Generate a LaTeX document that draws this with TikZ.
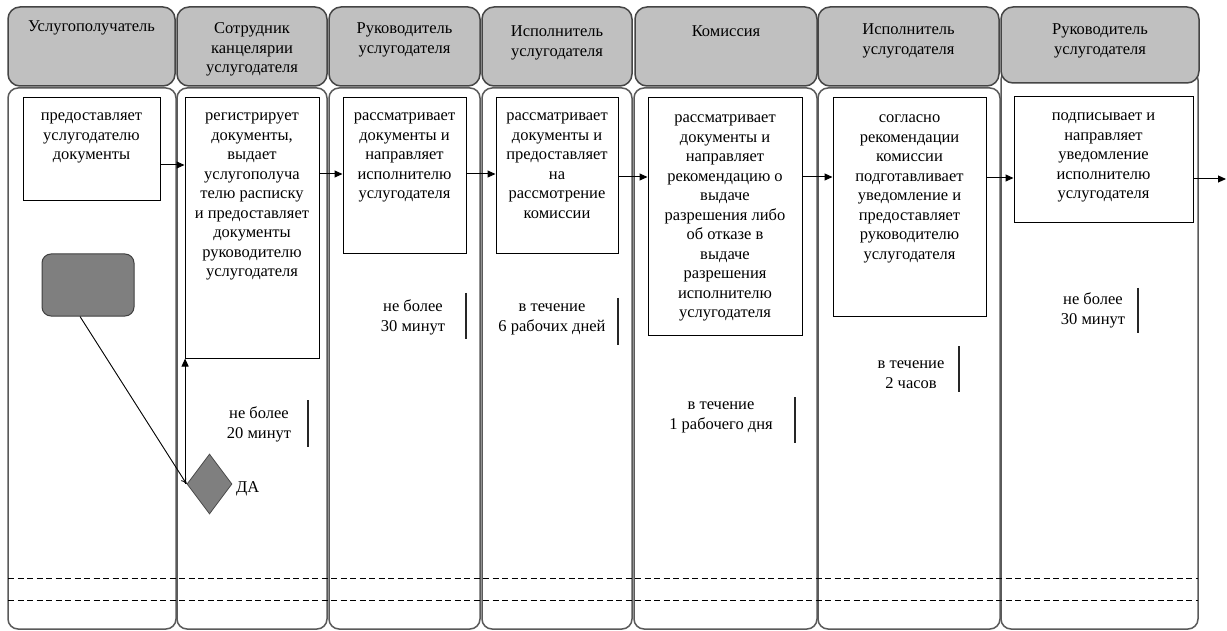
\documentclass[tikz,border=0pt]{standalone}
\usepackage{fontspec}
\setmainfont{Liberation Serif}
\usetikzlibrary{arrows.meta,shapes.geometric}
\definecolor{hdrfill}{HTML}{C0C0C0}
\definecolor{hdrline}{HTML}{454545}
\definecolor{laneline}{HTML}{5A5A5A}
\definecolor{darkgray}{HTML}{7F7F7F}
\newcommand\myfs{\fontsize{16.5}{19.5}\selectfont}
\begin{document}
\begin{tikzpicture}[x=1pt,y=-1pt,
  txt/.style={align=center, inner sep=0pt, font=\myfs, anchor=north},
  boxst/.style={draw=black, line width=1pt, fill=white, rectangle, inner sep=0pt},
  hdr/.style={draw=hdrline, fill=hdrfill, line width=1.5pt, rounded corners=12pt, rectangle, inner sep=0pt},
  lane/.style={draw=laneline, line width=1.5pt, rounded corners=10pt},
  arr/.style={-{Triangle[length=8pt,width=7pt]}, line width=1pt},
  thinarr/.style={-{To[length=6pt,width=6pt]}, line width=0.9pt},
  bar/.style={line width=1.2pt, draw=black!85},
  dashline/.style={line width=1pt, dash pattern=on 6pt off 3.5pt}]
\fill[white] (0,0) rectangle (1227,631);
\useasboundingbox (0,0) rectangle (1227,631);
% lanes
\draw[lane] (8,88) rectangle (176,629);
\draw[lane] (177,88) rectangle (327,629);
\draw[lane] (329,88) rectangle (480,629);
\draw[lane] (482,88) rectangle (632,629);
\draw[lane] (634,88) rectangle (817,629);
\draw[lane] (818,88) rectangle (1000,629);
\draw[lane] (1001,70) rectangle (1198,629);
% dashed lines
\draw[dashline] (8,578) -- (1198,578);
\draw[dashline] (8,600) -- (1198,600);
% headers
\node[hdr, minimum width=167pt, minimum height=79pt] (h1) at (91.5,46.5) {};
\node[hdr, minimum width=150pt, minimum height=79pt] (h2) at (252,46.5) {};
\node[hdr, minimum width=151pt, minimum height=79pt] (h3) at (404.5,46.5) {};
\node[hdr, minimum width=150pt, minimum height=79pt] (h4) at (557,46.5) {};
\node[hdr, minimum width=182pt, minimum height=79pt] (h5) at (726,46.5) {};
\node[hdr, minimum width=181pt, minimum height=79pt] (h6) at (908.5,46.5) {};
\node[hdr, minimum width=198pt, minimum height=76pt] (h7) at (1100,45) {};
\node[txt] (t1) at (91.5,18) {\strut Услугополучатель};
\node[txt] (t2) at (252,20) {\strut Сотрудник\\канцелярии\\услугодателя};
\node[txt] (t3) at (404.5,20) {\strut Руководитель\\услугодателя};
\node[txt] (t4) at (557,23) {\strut Исполнитель\\услугодателя};
\node[txt] (t5) at (726,23) {\strut Комиссия};
\node[txt] (t6) at (908.5,21) {\strut Исполнитель\\услугодателя};
\node[txt] (t7) at (1100,21) {\strut Руководитель\\услугодателя};
% boxes
\node[boxst, minimum width=137pt, minimum height=103pt] (b1) at (91.5,149.5) {};
\node[boxst, minimum width=134pt, minimum height=260pt] (b2) at (252,228) {};
\node[boxst, minimum width=123pt, minimum height=156pt] (b3) at (404.5,176) {};
\node[boxst, minimum width=122pt, minimum height=156pt] (b4) at (557,176) {};
\node[boxst, minimum width=154pt, minimum height=237pt] (b5) at (725,216.5) {};
\node[boxst, minimum width=153pt, minimum height=218pt] (b6) at (909.5,207) {};
\node[boxst, minimum width=179pt, minimum height=126pt] (b7) at (1103.5,160) {};
\node[txt] (bt1) at (91.5,107) {\strut предоставляет\\услугодателю\\документы};
\node[txt] (bt2) at (252,107) {\strut регистрирует\\документы,\\выдает\\услугополуча\\телю расписку\\и предоставляет\\документы\\руководителю\\услугодателя};
\node[txt] (bt3) at (404.5,107) {\strut рассматривает\\документы и\\направляет\\исполнителю\\услугодателя};
\node[txt] (bt4) at (557,107) {\strut рассматривает\\документы и\\предоставляет\\на\\рассмотрение\\комиссии};
\node[txt] (bt5) at (725,109) {\strut рассматривает\\документы и\\направляет\\рекомендацию о\\выдаче\\разрешения либо\\об отказе в\\выдаче\\разрешения\\исполнителю\\услугодателя};
\node[txt] (bt6) at (909.5,109) {\strut согласно\\рекомендации\\комиссии\\подготавливает\\уведомление и\\предоставляет\\руководителю\\услугодателя};
\node[txt] (bt7) at (1103.5,107) {\strut подписывает и\\направляет\\уведомление\\исполнителю\\услугодателя};
% flow arrows
\coordinate (y1) at (0,165);
\coordinate (y2) at (0,174);
\coordinate (y3) at (0,174);
\coordinate (y4) at (0,177);
\coordinate (y5) at (0,177);
\coordinate (y6) at (0,178);
\coordinate (out) at (1226,179);
\draw[arr] (b1.east |- y1) -- (b2.west |- y1);
\draw[arr] (b2.east |- y2) -- (b3.west |- y2);
\draw[arr] (b3.east |- y3) -- (b4.west |- y3);
\draw[arr] (b4.east |- y4) -- (b5.west |- y4);
\draw[arr] (b5.east |- y5) -- (b6.west |- y5);
\draw[arr] (b6.east |- y6) -- (b7.west |- y6);
\draw[arr] (b7.east |- out) -- (out);
% start shape and decision
\node[draw=black!75, fill=darkgray, line width=1pt, rounded corners=9pt, rectangle, minimum width=92pt, minimum height=62pt, inner sep=0pt] (g) at (88,285) {};
\node[draw=black!70, fill=darkgray, line width=0.8pt, diamond, minimum width=45pt, minimum height=60pt, inner sep=0pt] (d) at (209.5,484) {};
\node[font=\myfs, anchor=west, inner sep=0pt] (da) at (236,489) {ДА};
\draw[thinarr] ([xshift=-8pt]g.south) -- (d.west);
\draw[arr] ([xshift=-1.5pt]d.west) -- ([xshift=-1.5pt]d.west |- b2.south);
% time labels
\node[txt] (l2) at (259,405) {\strut не более\\20 минут};
\draw[bar] (308,400) -- (308,447);
\node[txt] (l3) at (413,298) {\strut не более\\30 минут};
\draw[bar] (466,293) -- (466,339);
\node[txt] (l4) at (552,298) {\strut в течение\\6 рабочих дней};
\draw[bar] (618,298) -- (618,345);
\node[txt] (l5) at (721,396) {\strut в течение\\1 рабочего дня};
\draw[bar] (795,397) -- (795,443);
\node[txt] (l6) at (911,355) {\strut в течение\\2 часов};
\draw[bar] (959,346) -- (959,392);
\node[txt] (l7) at (1093,291) {\strut не более\\30 минут};
\draw[bar] (1138,288) -- (1138,333);
\end{tikzpicture}
\end{document}
